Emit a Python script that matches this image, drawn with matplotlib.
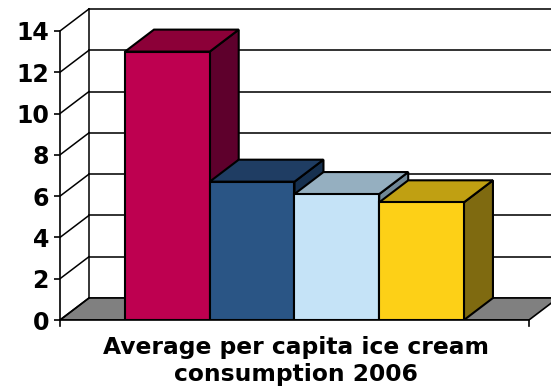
import matplotlib.pyplot as plt
from matplotlib.patches import Polygon

# values
values = [13.0, 6.7, 6.1, 5.7]
front_colors = ["#BE0050", "#2A5585", "#C5E3F7", "#FDD017"]
top_colors = ["#8C0038", "#1F3D63", "#95AFC0", "#C0A012"]
side_colors = ["#5E002C", "#16304F", "#708898", "#7F6A10"]
yticks = [0, 2, 4, 6, 8, 10, 12, 14]
xlabel = "Average per capita ice cream\nconsumption 2006"

# 3d depth offsets in data units
dx = 0.342
dy = 1.066
x_left = -1.267
x_right = 4.267

fig = plt.figure(figsize=(5.51, 3.87), dpi=100)
ax = fig.add_axes([60 / 551, 67 / 387, 491 / 551, 320 / 387])
ax.set_xlim(x_left, 4.527)
ax.set_ylim(0, 15.5)

# floor
ax.add_patch(Polygon([(x_left, 0), (x_right, 0), (x_right + dx, dy), (x_left + dx, dy)],
                     closed=True, facecolor="#808080", edgecolor="black", lw=1.2, zorder=1))

# left wall lines and back wall gridlines
for v in yticks:
    ax.plot([x_left, x_left + dx], [v, v + dy], color="black", lw=1.1, zorder=2)
    ax.plot([x_left + dx, 4.7], [v + dy, v + dy], color="#222222", lw=1.3, zorder=0.5)
ax.plot([x_left + dx, x_left + dx], [dy, 14 + dy], color="black", lw=1.1, zorder=2)

# bars, left to right so the next bar covers the side face
xs = list(range(len(values)))
for i, v in enumerate(values):
    x0 = xs[i] - 0.5
    x1 = xs[i] + 0.5
    ax.add_patch(Polygon([(x1, 0), (x1, v), (x1 + dx, v + dy), (x1 + dx, dy)],
                         closed=True, facecolor=side_colors[i], edgecolor="black", lw=1.5, zorder=3 + i))
    ax.add_patch(Polygon([(x0, v), (x1, v), (x1 + dx, v + dy), (x0 + dx, v + dy)],
                         closed=True, facecolor=top_colors[i], edgecolor="black", lw=1.5, zorder=3 + i))
    ax.bar(xs[i], v, width=1.0, color=front_colors[i], edgecolor="black", lw=1.5, zorder=3 + i)

# front axis
for s in ["top", "right", "bottom"]:
    ax.spines[s].set_visible(False)
ax.spines["left"].set_position(("data", x_left))
ax.spines["left"].set_bounds(0, 14)
ax.spines["left"].set_linewidth(1.2)
ax.plot([x_left, x_right], [0, 0], color="black", lw=1.2, zorder=10, clip_on=False)
for xe in [x_left, x_right]:
    ax.plot([xe, xe], [0, -0.3], color="black", lw=1.2, clip_on=False)

ax.set_yticks(yticks)
ax.set_yticklabels([str(t) for t in yticks], fontsize=17, fontweight="bold")
ax.tick_params(axis="y", length=4, width=1.2, pad=4)
ax.set_xticks([])

fig.text(296 / 551, 26 / 387, xlabel, ha="center", va="center",
         fontsize=16.8, fontweight="bold", linespacing=1.2)

fig.savefig("out.png", dpi=100)
